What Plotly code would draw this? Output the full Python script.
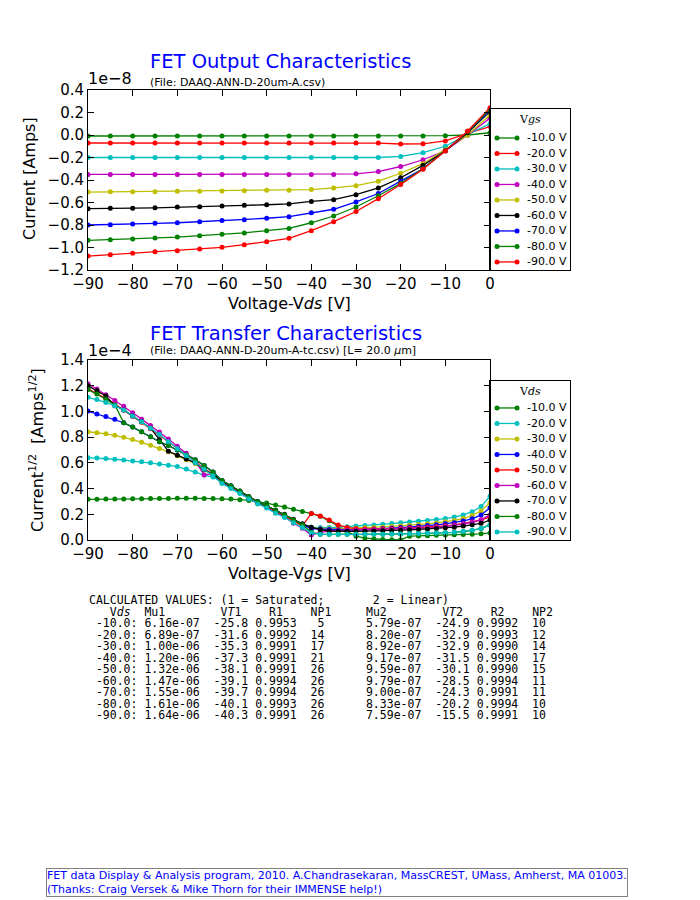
import plotly.graph_objects as go

# ---------------- data ----------------
# output characteristics: drain current (units of 1e-8 A) vs Vds, one curve per Vgs
vds_out = [-90, -85, -80, -75, -70, -65, -60, -55, -50, -45, -40, -35, -30, -25, -20, -15, -10, -5, 0]
vgs_labels = ["-10.0 V", "-20.0 V", "-30.0 V", "-40.0 V", "-50.0 V", "-60.0 V", "-70.0 V", "-80.0 V", "-90.0 V"]
out_colors = ["#008000", "#ff0000", "#00bfbf", "#bf00bf", "#bfbf00", "#000000", "#0000ff", "#008000", "#ff0000"]

id_vgs10 = [-0.009, -0.009, -0.009, -0.009, -0.009, -0.009, -0.009, -0.009, -0.009, -0.009, -0.009, -0.009, -0.009, -0.009, -0.009, -0.008, -0.006, 0.0, 0.02]
id_vgs20 = [-0.071, -0.071, -0.071, -0.071, -0.071, -0.071, -0.071, -0.071, -0.071, -0.071, -0.071, -0.071, -0.072, -0.072, -0.08, -0.078, -0.053, 0.015, 0.075]
id_vgs30 = [-0.2, -0.2, -0.2, -0.2, -0.2, -0.2, -0.2, -0.2, -0.2, -0.2, -0.2, -0.2, -0.2, -0.2, -0.19, -0.157, -0.1, 0.005, 0.1]
id_vgs40 = [-0.35, -0.352, -0.35, -0.35, -0.35, -0.35, -0.35, -0.35, -0.35, -0.35, -0.35, -0.35, -0.345, -0.325, -0.28, -0.22, -0.14, 0.0, 0.15]
id_vgs50 = [-0.507, -0.505, -0.505, -0.505, -0.5, -0.5, -0.498, -0.496, -0.49, -0.49, -0.485, -0.47, -0.45, -0.41, -0.34, -0.255, -0.13, 0.0, 0.18]
id_vgs60 = [-0.655, -0.65, -0.65, -0.647, -0.64, -0.637, -0.63, -0.625, -0.62, -0.613, -0.59, -0.575, -0.53, -0.47, -0.38, -0.27, -0.14, 0.02, 0.21]
id_vgs70 = [-0.8, -0.797, -0.79, -0.785, -0.78, -0.77, -0.76, -0.753, -0.74, -0.726, -0.69, -0.66, -0.595, -0.52, -0.41, -0.3, -0.14, 0.03, 0.22]
id_vgs80 = [-0.936, -0.93, -0.925, -0.916, -0.907, -0.895, -0.883, -0.87, -0.85, -0.83, -0.78, -0.72, -0.64, -0.54, -0.43, -0.3, -0.14, 0.03, 0.23]
id_vgs90 = [-1.076, -1.064, -1.05, -1.037, -1.028, -1.013, -0.998, -0.975, -0.948, -0.918, -0.85, -0.77, -0.68, -0.566, -0.44, -0.305, -0.142, 0.036, 0.243]
id_out = [id_vgs10, id_vgs20, id_vgs30, id_vgs40, id_vgs50, id_vgs60, id_vgs70, id_vgs80, id_vgs90]

# transfer characteristics: sqrt(Id) (units of 1e-4 A^1/2) vs Vgs, one curve per Vds
vgs_tc = [-90, -88, -86, -84, -82, -80, -78, -76, -74, -72, -70, -68, -66, -64, -62, -60,
          -58, -56, -54, -52, -50, -48, -46, -44, -42, -40, -38, -36, -34, -32, -30, -28,
          -26, -24, -22, -20, -18, -16, -14, -12, -10, -8, -6, -4, -2, 0]
vds_labels = ["-10.0 V", "-20.0 V", "-30.0 V", "-40.0 V", "-50.0 V", "-60.0 V", "-70.0 V", "-80.0 V", "-90.0 V"]
tc_colors = ["#008000", "#00bfbf", "#bfbf00", "#0000ff", "#ff0000", "#bf00bf", "#000000", "#008000", "#00bfbf"]

sq_vds10 = [0.316, 0.317, 0.318, 0.318, 0.319, 0.32, 0.321, 0.322, 0.323, 0.323, 0.324, 0.324, 0.324, 0.323, 0.322, 0.32,
            0.318, 0.314, 0.308, 0.298, 0.287, 0.272, 0.256, 0.24, 0.222, 0.206, 0.185, 0.15, 0.11, 0.065, 0.03, 0.014,
            0.007, 0.004, 0.002, 0.001, 0.03, 0.032, 0.034, 0.036, 0.038, 0.04, 0.042, 0.045, 0.048, 0.055]
sq_vds20 = [0.64, 0.637, 0.633, 0.628, 0.622, 0.615, 0.608, 0.6, 0.591, 0.582, 0.571, 0.552, 0.528, 0.505, 0.49, 0.45,
            0.41, 0.372, 0.33, 0.292, 0.262, 0.225, 0.192, 0.15, 0.115, 0.1, 0.097, 0.097, 0.1, 0.104, 0.109, 0.113,
            0.117, 0.122, 0.128, 0.134, 0.14, 0.146, 0.152, 0.159, 0.167, 0.178, 0.195, 0.22, 0.26, 0.34]
sq_vds30 = [0.842, 0.835, 0.826, 0.814, 0.8, 0.781, 0.76, 0.737, 0.712, 0.687, 0.655, 0.625, 0.595, 0.545, 0.505, 0.457,
            0.417, 0.378, 0.333, 0.294, 0.263, 0.228, 0.196, 0.156, 0.121, 0.095, 0.09, 0.088, 0.088, 0.09, 0.092, 0.095,
            0.098, 0.102, 0.106, 0.11, 0.115, 0.12, 0.126, 0.133, 0.141, 0.152, 0.167, 0.19, 0.225, 0.29]
sq_vds40 = [1.003, 0.98, 0.96, 0.94, 0.912, 0.878, 0.842, 0.804, 0.764, 0.735, 0.7, 0.662, 0.625, 0.58, 0.528, 0.462,
            0.422, 0.382, 0.337, 0.298, 0.266, 0.23, 0.197, 0.158, 0.118, 0.088, 0.085, 0.082, 0.08, 0.08, 0.081, 0.083,
            0.086, 0.089, 0.093, 0.097, 0.101, 0.106, 0.112, 0.118, 0.126, 0.135, 0.148, 0.165, 0.195, 0.25]
sq_vds50 = [1.175, 1.14, 1.1, 1.057, 1.012, 0.963, 0.915, 0.866, 0.816, 0.765, 0.715, 0.664, 0.61, 0.556, 0.51, 0.456,
            0.416, 0.376, 0.331, 0.291, 0.259, 0.22, 0.188, 0.146, 0.11, 0.207, 0.187, 0.155, 0.117, 0.098, 0.088, 0.085,
            0.085, 0.086, 0.088, 0.09, 0.093, 0.096, 0.1, 0.105, 0.11, 0.117, 0.127, 0.14, 0.155, 0.18]
sq_vds60 = [1.215, 1.175, 1.13, 1.085, 1.04, 0.99, 0.94, 0.89, 0.84, 0.785, 0.73, 0.675, 0.617, 0.505, 0.518, 0.454,
            0.415, 0.376, 0.324, 0.285, 0.254, 0.213, 0.181, 0.13, 0.091, 0.039, 0.06, 0.07, 0.074, 0.076, 0.077, 0.078,
            0.079, 0.08, 0.082, 0.084, 0.087, 0.09, 0.094, 0.099, 0.105, 0.113, 0.124, 0.138, 0.158, 0.195]
sq_vds70 = [1.2, 1.162, 1.12, 1.045, 1.012, 0.965, 0.92, 0.87, 0.78, 0.69, 0.66, 0.63, 0.6, 0.548, 0.508, 0.46,
            0.42, 0.38, 0.336, 0.297, 0.266, 0.232, 0.2, 0.162, 0.126, 0.1, 0.08, 0.07, 0.068, 0.068, 0.068, 0.069,
            0.07, 0.072, 0.074, 0.076, 0.079, 0.082, 0.086, 0.09, 0.095, 0.1, 0.108, 0.118, 0.13, 0.155]
sq_vds80 = [1.17, 1.135, 1.095, 1.05, 0.912, 0.878, 0.842, 0.804, 0.764, 0.735, 0.7, 0.662, 0.625, 0.58, 0.528, 0.462,
            0.422, 0.382, 0.337, 0.298, 0.266, 0.23, 0.197, 0.158, 0.118, 0.06, 0.045, 0.044, 0.044, 0.044, 0.044, 0.044,
            0.045, 0.045, 0.046, 0.047, 0.048, 0.05, 0.052, 0.054, 0.057, 0.06, 0.066, 0.075, 0.09, 0.117]
sq_vds90 = [1.11, 1.092, 1.07, 1.045, 1.012, 0.965, 0.92, 0.87, 0.82, 0.765, 0.71, 0.655, 0.6, 0.55, 0.5, 0.44,
            0.4, 0.362, 0.318, 0.28, 0.248, 0.208, 0.175, 0.135, 0.098, 0.055, 0.045, 0.044, 0.044, 0.044, 0.044, 0.044,
            0.045, 0.045, 0.046, 0.047, 0.048, 0.05, 0.052, 0.054, 0.057, 0.06, 0.066, 0.075, 0.09, 0.117]
sq_tc = [sq_vds10, sq_vds20, sq_vds30, sq_vds40, sq_vds50, sq_vds60, sq_vds70, sq_vds80, sq_vds90]

# calculated values table
tab_vds = [-10.0, -20.0, -30.0, -40.0, -50.0, -60.0, -70.0, -80.0, -90.0]
mu1 = [6.16e-07, 6.89e-07, 1.00e-06, 1.20e-06, 1.32e-06, 1.47e-06, 1.55e-06, 1.61e-06, 1.64e-06]
vt1 = [-25.8, -31.6, -35.3, -37.3, -38.1, -39.1, -39.7, -40.1, -40.3]
r1 = [0.9953, 0.9992, 0.9991, 0.9991, 0.9991, 0.9994, 0.9994, 0.9993, 0.9991]
np1 = [5, 14, 17, 21, 26, 26, 26, 26, 26]
mu2 = [5.79e-07, 8.20e-07, 8.92e-07, 9.17e-07, 9.59e-07, 9.79e-07, 9.00e-07, 8.33e-07, 7.59e-07]
vt2 = [-24.9, -32.9, -32.9, -31.5, -30.1, -28.5, -24.3, -20.2, -15.5]
r2 = [0.9992, 0.9993, 0.9990, 0.9990, 0.9990, 0.9994, 0.9991, 0.9994, 0.9991]
np2 = [10, 12, 14, 17, 15, 11, 11, 10, 10]

# the page puts an 8px body margin around the figure, so size and place things for that
PAGE_PAD = 8
W, H = 700 - PAGE_PAD, 900 - PAGE_PAD
FONT = "DejaVu Sans"


def px_x(p):
    return (p - PAGE_PAD) / W


def px_y(p):
    return 1 - (p - PAGE_PAD) / H


fig = go.Figure()

# main curves
for lab, vals, col in zip(vgs_labels, id_out, out_colors):
    fig.add_trace(go.Scatter(x=vds_out, y=vals, name=lab, mode="lines+markers",
                             line=dict(color=col, width=1.3), marker=dict(color=col, size=5),
                             xaxis="x", yaxis="y", showlegend=False))
for lab, vals, col in zip(vds_labels, sq_tc, tc_colors):
    fig.add_trace(go.Scatter(x=vgs_tc, y=vals, name=lab, mode="lines+markers",
                             line=dict(color=col, width=1.3), marker=dict(color=col, size=5),
                             xaxis="x2", yaxis="y2", showlegend=False))

# legend boxes (matplotlib style, two points per sample)
ann = []
for k, (lab, col) in enumerate(zip(vgs_labels, out_colors)):
    fig.add_trace(go.Scatter(x=[0, 1], y=[k, k], mode="lines+markers", line=dict(color=col, width=1.3),
                             marker=dict(color=col, size=5), xaxis="x3", yaxis="y3", showlegend=False,
                             hoverinfo="skip"))
    ann.append(dict(x=1.4, y=k, xref="x3", yref="y3", text=lab, showarrow=False, xanchor="left",
                    font=dict(size=11)))
for k, (lab, col) in enumerate(zip(vds_labels, tc_colors)):
    fig.add_trace(go.Scatter(x=[0, 1], y=[k, k], mode="lines+markers", line=dict(color=col, width=1.3),
                             marker=dict(color=col, size=5), xaxis="x4", yaxis="y4", showlegend=False,
                             hoverinfo="skip"))
    ann.append(dict(x=1.4, y=k, xref="x4", yref="y4", text=lab, showarrow=False, xanchor="left",
                    font=dict(size=11)))
ann.append(dict(x=0.5, y=-1.16, xref="x3 domain", yref="y3", text="V<i>gs</i>", showarrow=False,
                font=dict(size=11, family="DejaVu Serif")))
ann.append(dict(x=0.5, y=-1.03, xref="x4 domain", yref="y4", text="V<i>ds</i>", showarrow=False,
                font=dict(size=11, family="DejaVu Serif")))

# titles and axis labels
ann += [
    dict(x=px_x(148), y=px_y(61), text="FET Output Characteristics", font=dict(size=19.5, color="blue")),
    dict(x=px_x(148), y=px_y(83), text="(File: DAAQ-ANN-D-20um-A.csv)", font=dict(size=11)),
    dict(x=px_x(86), y=px_y(79), text="1e\u22128", font=dict(size=16)),
    dict(x=px_x(148), y=px_y(333), text="FET Transfer Characteristics", font=dict(size=19.5, color="blue")),
    dict(x=px_x(148), y=px_y(351), text="(File: DAAQ-ANN-D-20um-A-tc.csv) [L= 20.0 <i>\u03bc</i>m]",
         font=dict(size=11)),
    dict(x=px_x(86), y=px_y(350), text="1e\u22124", font=dict(size=16)),
]
for a in ann[-6:]:
    a.update(xref="paper", yref="paper", xanchor="left", yanchor="middle", showarrow=False)

ann += [
    dict(x=px_x(289), y=px_y(303), text="Voltage-V<i>ds</i> [V]", font=dict(size=16)),
    dict(x=px_x(29), y=px_y(179), text="Current [Amps]", font=dict(size=16), textangle=-90),
    dict(x=px_x(289), y=px_y(573), text="Voltage-V<i>gs</i> [V]", font=dict(size=16)),
    dict(x=px_x(36), y=px_y(450), text="Current<sup>1/2</sup>  [Amps<sup>1/2</sup>]", font=dict(size=16),
         textangle=-90),
]
for a in ann[-4:]:
    a.update(xref="paper", yref="paper", xanchor="center", yanchor="middle", showarrow=False)

# calculated values table
nb = "\u00a0"
lines = ["CALCULATED VALUES: (1 = Saturated;       2 = Linear)",
         "   V<i>ds</i>  Mu1        V<i>T</i>1    R1    NP1     Mu2        V<i>T</i>2    R2    NP2"]
for i in range(len(tab_vds)):
    lines.append(f"{tab_vds[i]:6.1f}: {mu1[i]:.2e}  {vt1[i]:.1f} {r1[i]:.4f} {np1[i]:3d}      "
                 f"{mu2[i]:.2e}  {vt2[i]:.1f} {r2[i]:.4f} {np2[i]:3d}")
for k, line in enumerate(lines):
    ann.append(dict(x=px_x(87), y=px_y(600 + 11.5 * k), xref="paper", yref="paper", xanchor="left",
                    yanchor="middle", showarrow=False, text=line.replace(" ", nb),
                    font=dict(family="DejaVu Sans Mono", size=11.5)))

# footer
ann.append(dict(x=px_x(46), y=px_y(868), xref="paper", yref="paper", xanchor="left", yanchor="top",
                showarrow=False, align="left", bordercolor="#808080", borderwidth=1, borderpad=0,
                text="FET data Display &amp; Analysis program, 2010. A.Chandrasekaran, MassCREST, UMass, "
                     "Amherst, MA 01003.<br>(Thanks: Craig Versek &amp; Mike Thorn for their IMMENSE help!)",
                font=dict(size=11, color="blue")))

axis_common = dict(showline=True, linecolor="black", linewidth=1, mirror="ticks", ticks="inside",
                   ticklen=6, tickcolor="black", showgrid=False, zeroline=False, automargin=False,
                   tickfont=dict(size=15, color="black"))
legend_axis = dict(showline=True, linecolor="black", linewidth=1, mirror=True, showticklabels=False,
                   ticks="", showgrid=False, zeroline=False, fixedrange=True, automargin=False)

fig.update_layout(
    width=W, height=H,
    margin=dict(l=0, r=0, t=0, b=0),
    paper_bgcolor="white", plot_bgcolor="white",
    font=dict(family=FONT, color="black"),
    showlegend=False,
    xaxis=dict(axis_common, domain=[px_x(88), px_x(490)], range=[-90, 0], dtick=10, anchor="y"),
    yaxis=dict(axis_common, domain=[px_y(270), px_y(90)], range=[-1.2, 0.4], dtick=0.2, tickformat=".1f",
               anchor="x"),
    xaxis2=dict(axis_common, domain=[px_x(88), px_x(490)], range=[-90, 0], dtick=10, anchor="y2"),
    yaxis2=dict(axis_common, domain=[px_y(540), px_y(360)], range=[0, 1.4], dtick=0.2, tickformat=".1f",
                anchor="x2"),
    xaxis3=dict(legend_axis, domain=[px_x(490), px_x(570)], range=[-0.35, 3.65], anchor="y3"),
    yaxis3=dict(legend_axis, domain=[px_y(270), px_y(109)], range=[8.52, -1.87], anchor="x3"),
    xaxis4=dict(legend_axis, domain=[px_x(490), px_x(570)], range=[-0.35, 3.65], anchor="y4"),
    yaxis4=dict(legend_axis, domain=[px_y(540), px_y(381)], range=[8.52, -1.74], anchor="x4"),
    annotations=ann,
)

fig.write_html("out.html")
